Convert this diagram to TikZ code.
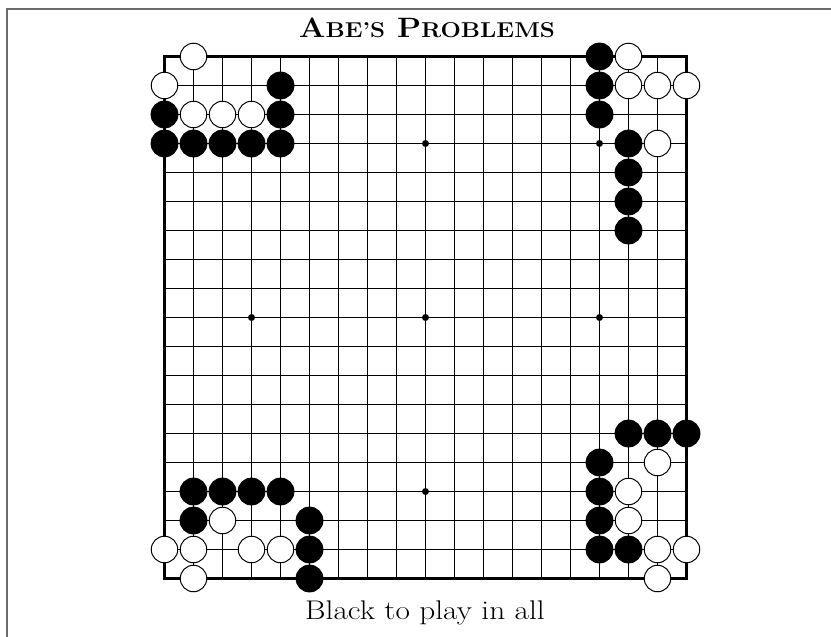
\documentclass[tikz,border=0pt]{standalone}
\usepackage{fontspec}
\usepackage{graphicx}
\begin{document}
\begin{tikzpicture}[x=1pt,y=-1pt,
  framepart/.style={draw=black!58,line width=2pt},
  gridline/.style={line width=1pt},
  edgeline/.style={line width=2.2pt},
  bstone/.style={circle,fill=black,draw=black,line width=0.8pt,minimum size=27pt,inner sep=0pt},
  wstone/.style={circle,fill=white,draw=black,line width=1pt,minimum size=26.5pt,inner sep=0pt},
  hoshi/.style={circle,fill=black,minimum size=7pt,inner sep=0pt}]
\useasboundingbox (0,0) rectangle (831,637);
% outer frame (top and left)
\draw[framepart] (7,637) -- (7,9) -- (831,9);
% title
\node[anchor=base,inner sep=0pt] (title) at (427,37.7)
  {\scalebox{1.12}[1]{\bfseries\fontsize{28}{30}\selectfont A\fontsize{21.5}{24}\selectfont BE’S\fontsize{28}{30}\selectfont{} P\fontsize{21.5}{24}\selectfont ROBLEMS}};
% caption
\node[anchor=base,inner sep=0pt] (caption) at (425,619.3)
  {\scalebox{1.16}[1]{\fontsize{27}{30}\selectfont Black to play in all}};
% board
\begin{scope}[shift={(164.5,56.5)},x=29pt,y=-29pt]
  \foreach \i in {1,...,17} {
    \draw[gridline] (\i,0) -- (\i,18);
    \draw[gridline] (0,\i) -- (18,\i);
  }
  \draw[edgeline] (0,0) rectangle (18,18);
  \foreach \p in {(3,3),(9,3),(15,3),(3,9),(9,9),(15,9),(3,15),(9,15),(15,15)}
    \node[hoshi] at \p {};
  % black stones
  \foreach \a/\b in {4/1,0/2,4/2,0/3,1/3,2/3,3/3,4/3,
                     15/0,15/1,15/2,16/3,16/4,16/5,16/6,
                     16/13,17/13,18/13,15/14,15/15,15/16,15/17,16/17,
                     1/15,2/15,3/15,4/15,1/16,5/16,5/17,5/18}
    \node[bstone] (b-\a-\b) at (\a,\b) {};
  % white stones
  \foreach \a/\b in {1/0,0/1,1/2,2/2,3/2,
                     16/0,16/1,17/1,18/1,17/3,
                     17/14,16/15,16/16,17/17,18/17,17/18,
                     2/16,0/17,1/17,3/17,4/17,1/18}
    \node[wstone] (w-\a-\b) at (\a,\b) {};
\end{scope}
\end{tikzpicture}
\end{document}
